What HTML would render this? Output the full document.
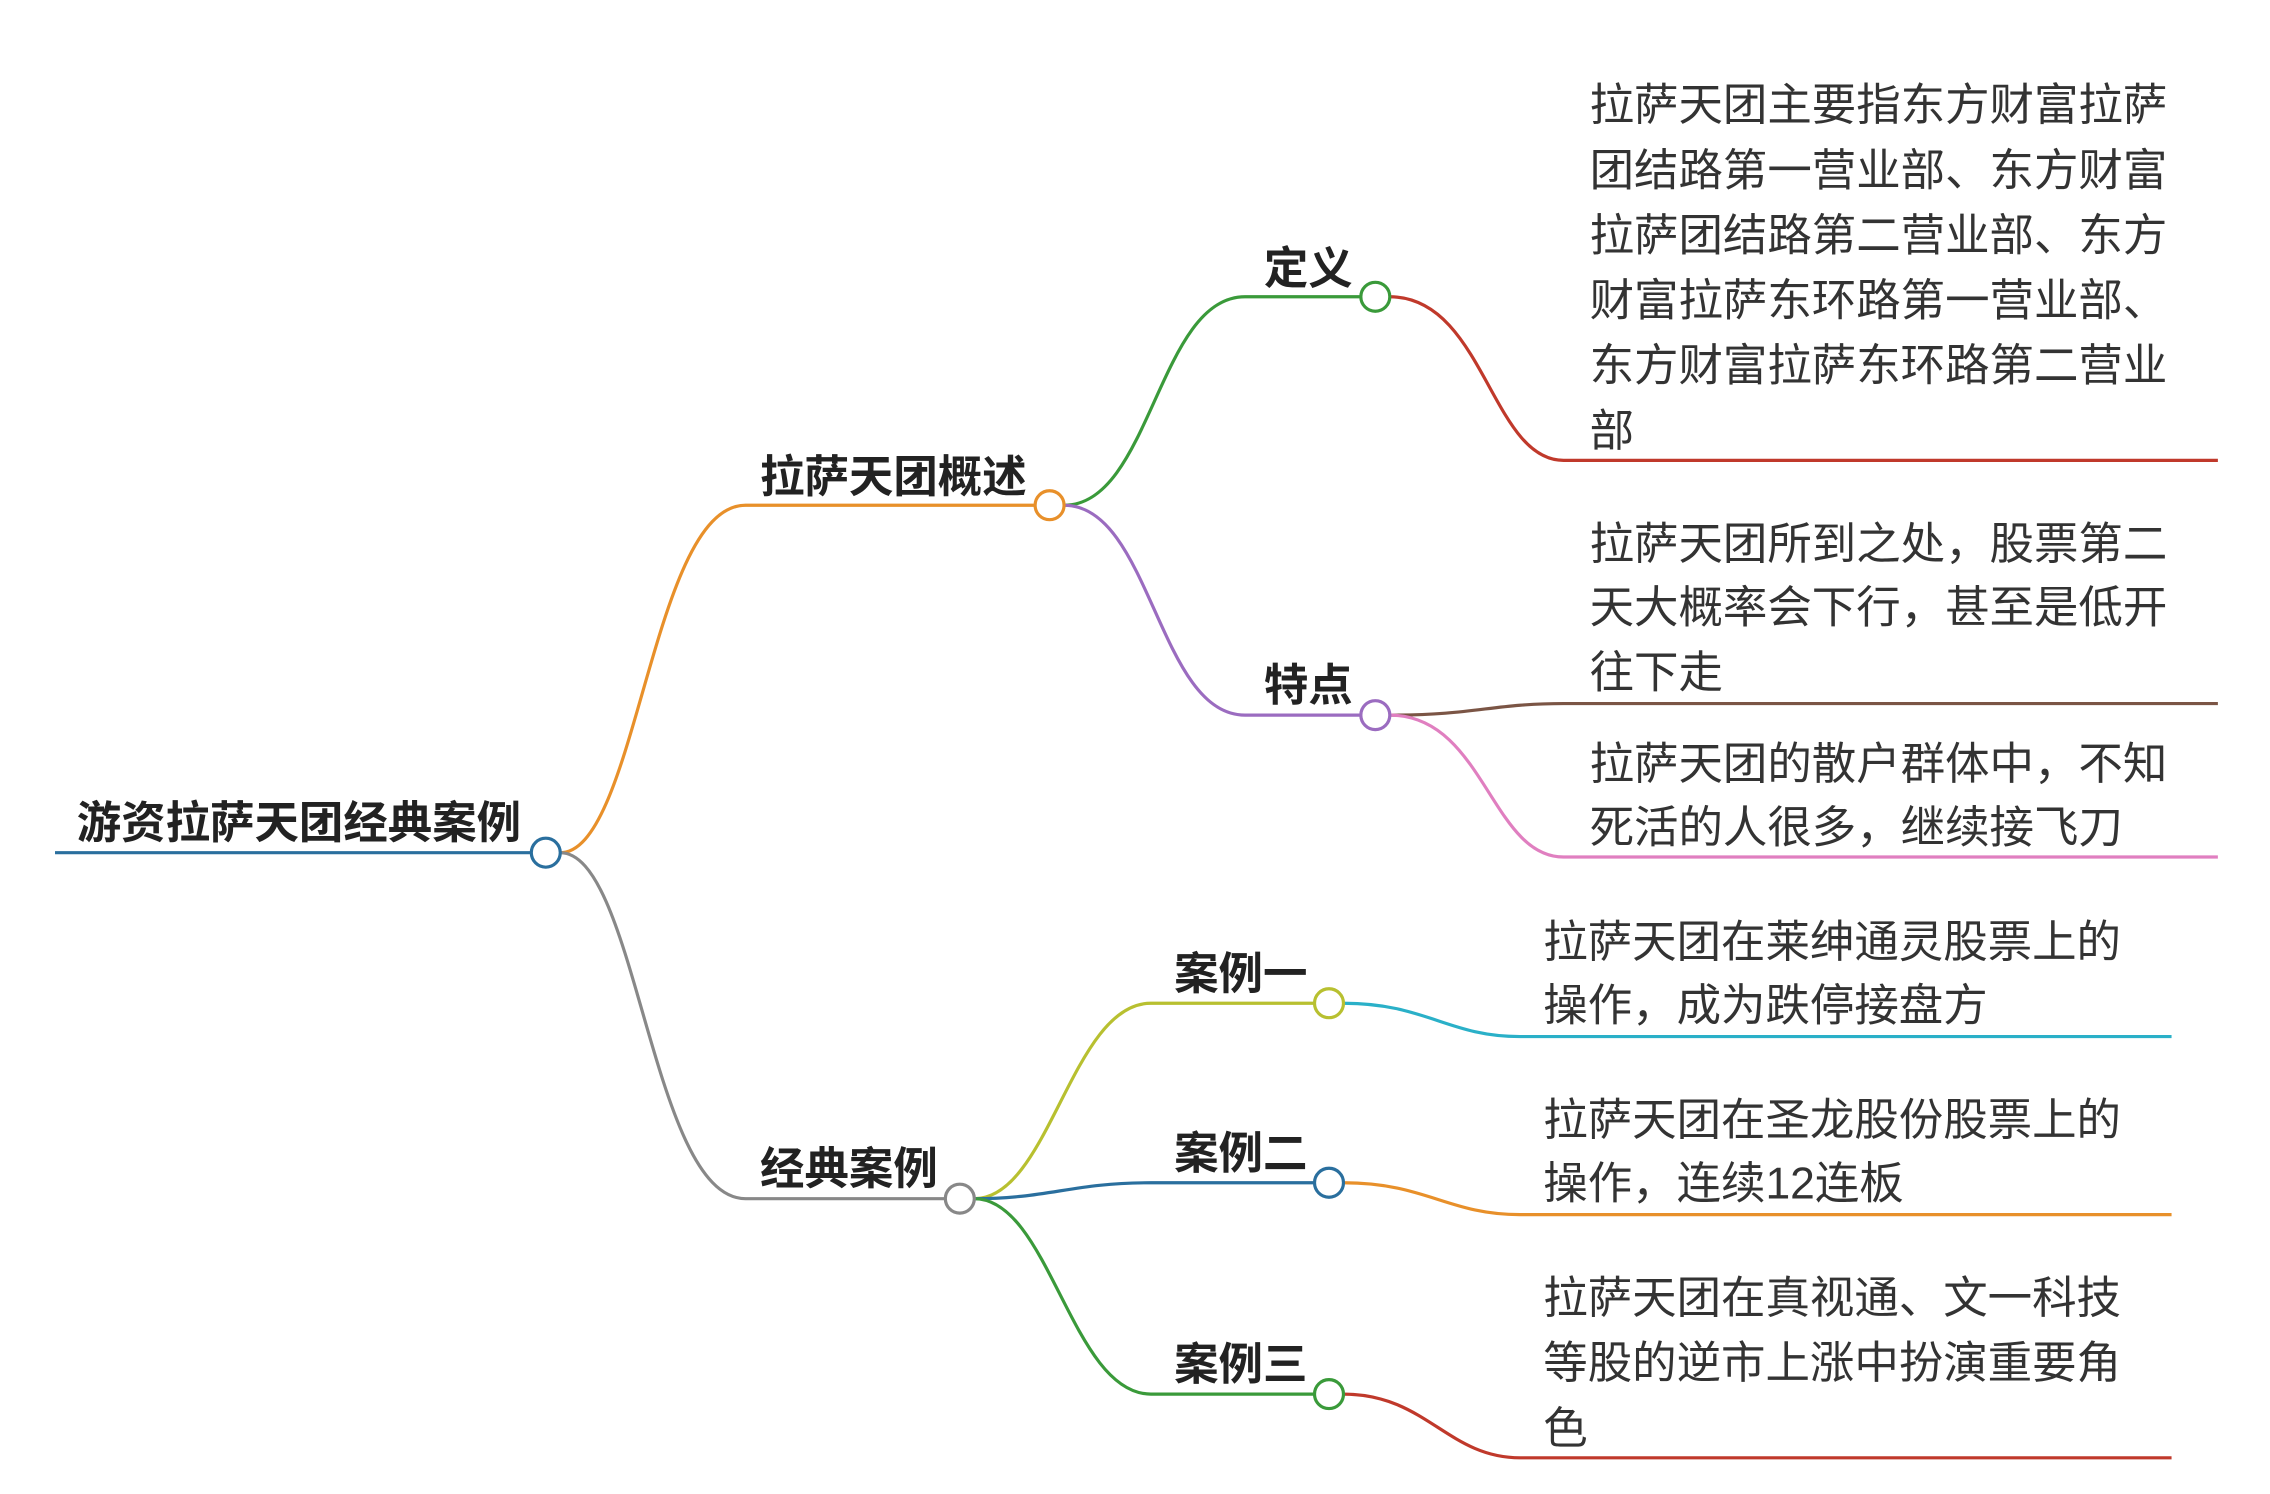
<!DOCTYPE html>
<html><head><meta charset="utf-8"><style>
html,body{margin:0;padding:0;background:#fff;}
svg{display:block;}
text{font-family:"Liberation Sans","Noto Sans CJK SC",sans-serif;}
.b{font-weight:bold;font-size:30.7px;fill:#222;}
.t{font-size:30.7px;fill:#333;}
path{fill:none;stroke-width:2.2;}
circle{fill:#fff;stroke-width:2.2;}
</style></head><body>
<svg width="2270" height="1494" viewBox="0 0 1568 1032" preserveAspectRatio="none" xmlns="http://www.w3.org/2000/svg">
<path d="M38,589 L367,589" stroke="#2a6f9e"/>
<path d="M387,589 C440,589 450,349 515,349 L715,349" stroke="#e8902a"/>
<path d="M387,589 C440,589 450,828 515,828 L653,828" stroke="#888"/>
<path d="M735,349 C795,349 800,205 860,205 L940,205" stroke="#3a9a3a"/>
<path d="M735,349 C795,349 800,494 860,494 L940,494" stroke="#9b6cc0"/>
<path d="M960,205 C1025,205 1030,318 1080,318 L1532,318" stroke="#c0392b"/>
<path d="M960,494 C1020,494 1030,486 1080,486 L1532,486" stroke="#7b5545"/>
<path d="M960,494 C1025,494 1030,592 1080,592 L1532,592" stroke="#e07fc0"/>
<path d="M673,828 C725,828 740,693 795,693 L908,693" stroke="#b8c030"/>
<path d="M673,828 C725,828 740,817 795,817 L908,817" stroke="#2a6f9e"/>
<path d="M673,828 C725,828 740,963 795,963 L908,963" stroke="#3a9a3a"/>
<path d="M928,693 C985,693 1000,716 1050,716 L1500,716" stroke="#2ab0c8"/>
<path d="M928,817 C985,817 1000,839 1050,839 L1500,839" stroke="#e8902a"/>
<path d="M928,963 C985,963 1000,1007 1050,1007 L1500,1007" stroke="#c0392b"/>
<circle cx="377" cy="589" r="10" stroke="#2a6f9e"/>
<circle cx="725" cy="349" r="10" stroke="#e8902a"/>
<circle cx="663" cy="828" r="10" stroke="#888"/>
<circle cx="950" cy="205" r="10" stroke="#3a9a3a"/>
<circle cx="950" cy="494" r="10" stroke="#9b6cc0"/>
<circle cx="918" cy="693" r="10" stroke="#b8c030"/>
<circle cx="918" cy="817" r="10" stroke="#2a6f9e"/>
<circle cx="918" cy="963" r="10" stroke="#3a9a3a"/>
<text class="b" x="53" y="579">游资拉萨天团经典案例</text>
<text class="b" x="525" y="340">拉萨天团概述</text>
<text class="b" x="525" y="818">经典案例</text>
<text class="b" x="873" y="196">定义</text>
<text class="b" x="873" y="484">特点</text>
<text class="b" x="811" y="683">案例一</text>
<text class="b" x="811" y="807">案例二</text>
<text class="b" x="811" y="953">案例三</text>
<text class="t" x="1098" y="83">拉萨天团主要指东方财富拉萨</text>
<text class="t" x="1098" y="128">团结路第一营业部、东方财富</text>
<text class="t" x="1098" y="173">拉萨团结路第二营业部、东方</text>
<text class="t" x="1098" y="218">财富拉萨东环路第一营业部、</text>
<text class="t" x="1098" y="263">东方财富拉萨东环路第二营业</text>
<text class="t" x="1098" y="308">部</text>
<text class="t" x="1098" y="386">拉萨天团所到之处，股票第二</text>
<text class="t" x="1098" y="430">天大概率会下行，甚至是低开</text>
<text class="t" x="1098" y="475">往下走</text>
<text class="t" x="1098" y="538">拉萨天团的散户群体中，不知</text>
<text class="t" x="1098" y="582">死活的人很多，继续接飞刀</text>
<text class="t" x="1066" y="661">拉萨天团在莱绅通灵股票上的</text>
<text class="t" x="1066" y="705">操作，成为跌停接盘方</text>
<text class="t" x="1066" y="784">拉萨天团在圣龙股份股票上的</text>
<text class="t" x="1066" y="828">操作，连续12连板</text>
<text class="t" x="1066" y="907">拉萨天团在真视通、文一科技</text>
<text class="t" x="1066" y="952">等股的逆市上涨中扮演重要角</text>
<text class="t" x="1066" y="997">色</text>
</svg>
</body></html>
